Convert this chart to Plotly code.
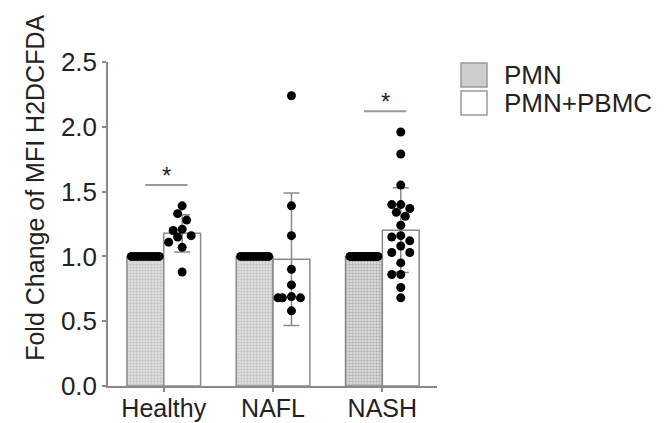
import numpy as np
import plotly.graph_objects as go

categories = ["Healthy", "NAFL", "NASH"]
series_names = ["PMN", "PMN+PBMC"]

pmn_values = [
    [1.0] * 10,
    [1.0] * 10,
    [1.0] * 20,
]
pbmc_values = [
    [1.39, 1.33, 1.28, 1.21, 1.20, 1.16, 1.15, 1.11, 1.07, 0.88],
    [2.24, 1.39, 1.16, 0.90, 0.78, 0.68, 0.68, 0.68, 0.69, 0.58],
    [1.96, 1.79, 1.55, 1.40, 1.40, 1.37, 1.34, 1.31, 1.24, 1.16,
     1.15, 1.12, 1.08, 1.03, 1.03, 0.95, 0.86, 0.86, 0.76, 0.68],
]
significant = ["Healthy", "NASH"]
y_ticks = [0.0, 0.5, 1.0, 1.5, 2.0, 2.5]
y_title = "Fold Change of MFI H2DCFDA"

# ---- layout constants (page body adds an 8px margin) ----
W, H = 659, 415
ML, MT = 100, 54
PW, PH = 329, 324.5
MR, MB = W - ML - PW, H - MT - PH
XR = [-0.51, 2.5]
YR = [0, 2.5]
BARGAP = 0.326
bw = (1 - BARGAP) / 2
ppx = PW / (XR[1] - XR[0])
ppy = PH / (YR[1] - YR[0])
DIAM = 9.0
GRAY = "#8a8a8a"


def px2paper(px, py):
    return (px - ML) / PW, 1 - (py - MT) / PH


def swarm(vals, center):
    vals = np.asarray(vals, float)
    half = (bw * ppx) / 2 - DIAM / 2
    if np.ptp(vals) == 0:
        return center + np.linspace(-half, half, len(vals)) / ppx
    step = DIAM / 2
    kmax = int(half // step)
    cands = sorted([k * step for k in range(-kmax, kmax + 1)], key=lambda d: (abs(d), d))
    placed = []
    offs = np.zeros(len(vals))
    for i in np.argsort(-vals):
        best, bestcost = 0.0, None
        for dx in cands:
            cost = 0.0
            for (pdx, pv) in placed:
                d = np.hypot(dx - pdx, (vals[i] - pv) * ppy)
                if d < DIAM * 0.95:
                    cost += DIAM - d
            if cost == 0:
                best, bestcost = dx, 0
                break
            if bestcost is None or cost < bestcost:
                best, bestcost = dx, cost
        placed.append((best, vals[i]))
        offs[i] = best
    return center + offs / ppx


xs = np.arange(len(categories))
pmn_mean = [np.mean(v) for v in pmn_values]
pbmc_mean = [np.mean(v) for v in pbmc_values]
pbmc_sd = [np.std(v, ddof=1) for v in pbmc_values]

fig = go.Figure()
fig.add_trace(go.Bar(
    x=xs, y=pmn_mean, name=series_names[0], showlegend=False,
    marker=dict(color="#e0e0e0",
                line=dict(color=GRAY, width=1.5),
                pattern=dict(shape=".", fgcolor=["#a0a0a0", "#a0a0a0", "#7a7a7a"],
                             bgcolor="#e6e6e6", size=3, solidity=0.5)),
))
fig.add_trace(go.Bar(
    x=xs, y=pbmc_mean, name=series_names[1], showlegend=False,
    marker=dict(color="white", line=dict(color=GRAY, width=1.5)),
    error_y=dict(type="data", array=pbmc_sd, visible=True, color=GRAY, thickness=1.5, width=8),
))

for gi in range(len(categories)):
    for vals, sign in ((pmn_values[gi], -1), (pbmc_values[gi], 1)):
        c = xs[gi] + sign * bw / 2
        fig.add_trace(go.Scatter(
            x=swarm(vals, c), y=vals, mode="markers", showlegend=False,
            marker=dict(color="black", size=DIAM, line=dict(width=0)),
            hoverinfo="skip",
        ))

shapes, annos = [], []
for cat in significant:
    gi = categories.index(cat)
    ysig = max(pbmc_values[gi]) + 0.16
    shapes.append(dict(type="line", xref="x", yref="y",
                       x0=xs[gi] - bw / 2, x1=xs[gi] + bw / 2 + 0.05, y0=ysig, y1=ysig,
                       line=dict(color="#999999", width=2)))
    annos.append(dict(x=xs[gi] + 0.025, y=ysig, xref="x", yref="y", text="*",
                      showarrow=False, yanchor="bottom", yshift=-6,
                      font=dict(size=24, color="#222")))

# custom legend (large swatches)
legend_fills = ["#cdcdcd", "white"]
for k, (name, fill) in enumerate(zip(series_names, legend_fills)):
    top = 55 + 28 * k
    x0, y0 = px2paper(453, top)
    x1, y1 = px2paper(479, top + 24)
    shapes.append(dict(type="rect", xref="paper", yref="paper", x0=x0, x1=x1, y0=y1, y1=y0,
                       fillcolor=fill, line=dict(color="#9a9a9a", width=1.5)))
    tx, ty = px2paper(494, top + 12)
    annos.append(dict(x=tx, y=ty, xref="paper", yref="paper", text=name, showarrow=False,
                      xanchor="left", yanchor="middle", font=dict(size=26, color="#222")))

# y-axis title (sits higher than the plot centre in the original)
tx, ty = px2paper(27, 180)
annos.append(dict(x=tx, y=ty, xref="paper", yref="paper", text=y_title, textangle=-90,
                  showarrow=False, xanchor="center", yanchor="middle",
                  font=dict(size=25, color="#222")))

FONT = "Liberation Sans, Arial, sans-serif"
fig.update_layout(
    width=W, height=H,
    margin=dict(l=ML, r=MR, t=MT, b=MB, autoexpand=False),
    paper_bgcolor="white", plot_bgcolor="white",
    barmode="group", bargap=BARGAP, bargroupgap=0,
    font=dict(family=FONT, size=24, color="#222"),
    shapes=shapes, annotations=annos, showlegend=False,
    xaxis=dict(range=XR, tickvals=list(xs), ticktext=categories, showgrid=False,
               zeroline=False, showline=True, linecolor=GRAY, linewidth=1.5,
               ticks="outside", ticklen=4, tickcolor=GRAY, tickwidth=1.5,
               tickfont=dict(size=25), ticklabelstandoff=-5),
    yaxis=dict(range=YR, tickvals=y_ticks, tickformat=".1f", showgrid=False,
               zeroline=False, showline=True, linecolor=GRAY, linewidth=1.5,
               ticks="outside", ticklen=4, tickcolor=GRAY, tickwidth=1.5,
               tickfont=dict(size=26)),
)
fig.write_html("out.html")
